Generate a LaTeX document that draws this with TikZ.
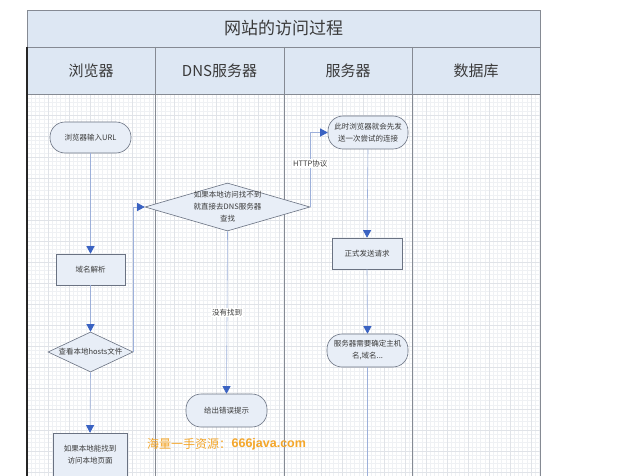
\documentclass[tikz,border=0pt]{standalone}
\usepackage{fontspec}
\setmainfont{Noto Sans CJK SC}
\newfontfamily\wmlatin{Liberation Sans}
\usetikzlibrary{shapes.geometric,arrows.meta}
\definecolor{hdr}{HTML}{DDE7F3}
\definecolor{nodefill}{HTML}{E8EEF7}
\definecolor{nodeline}{HTML}{6A7282}
\definecolor{connc}{HTML}{9DB0DA}
\definecolor{arrowc}{HTML}{3A62C2}
\definecolor{gridminor}{HTML}{EFF1F4}
\definecolor{gridmajor}{HTML}{E0E3E8}
\definecolor{txt}{HTML}{3A3A3A}
\definecolor{tbl}{HTML}{858A93}
\definecolor{wm}{HTML}{F4A62A}
\tikzset{
  box/.style={draw=nodeline, fill=nodefill, line width=0.6pt, text=txt,
    font=\fontsize{7.5}{12}\selectfont, align=center, inner sep=1pt},
  term/.style={box, rounded corners=15pt},
  rectbox/.style={box},
  dec/.style={box, diamond, inner sep=0pt},
  lbl/.style={text=txt, font=\fontsize{7.5}{12}\selectfont, align=center, inner sep=0pt},
  conn/.style={draw=connc, line width=0.6pt},
  arr/.style={conn, -{Triangle[length=7.5pt,width=8pt,color=arrowc,fill=arrowc]}},
  edgelbl/.style={text=txt, font=\fontsize{7.5}{9}\selectfont, fill=white, inner sep=1pt},
  hdrtxt/.style={text=txt, font=\fontsize{15}{18}\selectfont},
}
\begin{document}
\begin{tikzpicture}[x=1pt,y=-1pt]
\useasboundingbox (0,0) rectangle (619,476);
\fill[white] (0,0) rectangle (619,476);
% grid background of the body
\begin{scope}
  \clip (27,94) rectangle (540,476);
  \foreach \i in {0,...,125} {
    \draw[gridminor, line width=0.3pt] (27+\i*4.2,94) -- (27+\i*4.2,476);
  }
  \foreach \i in {0,...,92} {
    \draw[gridminor, line width=0.3pt] (27,94+\i*4.2) -- (540,94+\i*4.2);
  }
  \foreach \i in {0,...,25} {
    \draw[gridmajor, line width=0.35pt] (27+\i*21,94) -- (27+\i*21,476);
  }
  \foreach \i in {0,...,19} {
    \draw[gridmajor, line width=0.35pt] (27,94+\i*21) -- (540,94+\i*21);
  }
\end{scope}
% table header
\fill[hdr] (27,10) rectangle (540,94);
\draw[tbl, line width=0.7pt] (27,10) rectangle (540,94);
\draw[tbl, line width=0.9pt] (27,47) -- (540,47);
\draw[tbl, line width=0.7pt] (27,94) -- (540,94);
\foreach \x in {155,284,412} {
  \draw[tbl, line width=0.7pt] (\x,47) -- (\x,476);
}
\draw[tbl, line width=0.7pt] (540,94) -- (540,476);
\draw[black!85, line width=1.3pt] (27,47) -- (27,476);
\node[text=txt, font=\fontsize{17}{20}\selectfont] (title) at (283.5,28.5) {网站的访问过程};
\node[hdrtxt] (h1) at (91,71) {浏览器};
\node[hdrtxt] (h2) at (219.5,71) {DNS服务器};
\node[hdrtxt] (h3) at (348,71) {服务器};
\node[hdrtxt] (h4) at (476,71) {数据库};
% nodes
\node[term, minimum width=81pt, minimum height=31pt] (url) at (90.5,137.5) {浏览器输入URL};
\node[rectbox, minimum width=69pt, minimum height=31pt] (parse) at (90.5,269.5) {域名解析};
\node[dec, minimum width=85pt, minimum height=40pt] (hosts) at (90.5,352) {};
\node[lbl] (hoststxt) at (hosts.center) {查看本地hosts文件};
\node[rectbox, minimum width=74pt, minimum height=44pt] (local) at (90,455) {如果本地能找到\\访问本地页面};
\node[dec, minimum width=165pt, minimum height=48pt] (dns) at (227.5,207) {};
\node[lbl] (dnstxt) at (dns.center) {如果本地访问找不到\\就直接去DNS服务器\\查找};
\node[term, minimum width=81pt, minimum height=33pt] (err) at (226.5,410.5) {给出错误提示};
\node[term, minimum width=80pt, minimum height=33pt] (try) at (368,132.5) {此时浏览器就会先发\\送一次尝试的连接};
\node[rectbox, minimum width=70pt, minimum height=31pt] (req) at (367,253.5) {正式发送请求};
\node[term, minimum width=81pt, minimum height=33pt] (host) at (367.5,350.5) {服务器需要确定主机\\名,域名...};
\coordinate (bottomend) at (367.5,480);
% connectors
\draw[arr] (url.south) -- (parse.north);
\draw[arr] (parse.south) -- (hosts.north);
\draw[arr] (hosts.south) -- (local.north);
\draw[arr] (hosts.east) |- (dns.west);
\draw[arr] (dns.south) -- node[edgelbl, pos=0.5] {没有找到} (err.north);
\draw[arr] (dns.east) |- node[edgelbl, pos=0.29] {HTTP协议} (try.west);
\draw[arr] (try.south) -- (req.north);
\draw[arr] (req.south) -- (host.north);
\draw[conn] (host.south) -- (bottomend);
% watermark text
\node[anchor=west, inner sep=0pt, text=wm, font=\fontsize{12}{14}\selectfont] (wm1) at (147,444) {海量一手资源：};
\node[anchor=west, inner sep=0pt, text=wm, font=\wmlatin\bfseries\fontsize{12.5}{14}\selectfont] (wm2) at (wm1.east) {666java.com};
\end{tikzpicture}
\end{document}
